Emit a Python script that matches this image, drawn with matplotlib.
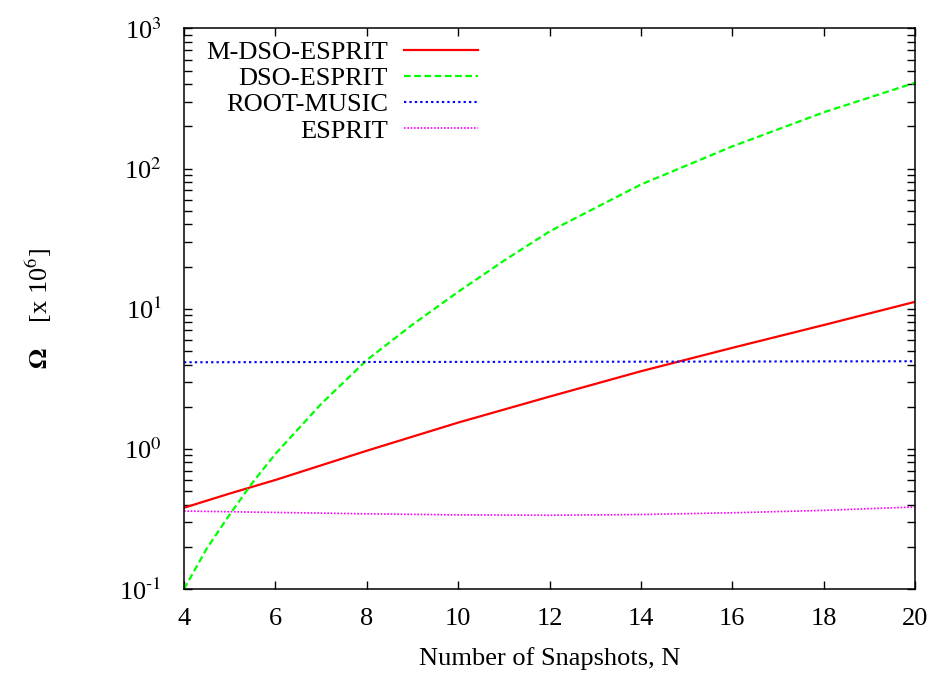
import matplotlib
matplotlib.use("Agg")
import matplotlib.pyplot as plt
from matplotlib.ticker import LogLocator, FuncFormatter, MultipleLocator, NullFormatter
import numpy as np

plt.rcParams["font.family"] = ["Liberation Serif", "DejaVu Serif"]
plt.rcParams["mathtext.fontset"] = "stix"
plt.rcParams["font.size"] = 19

# Complexity vs number of snapshots (x 10^6 flops)
n_mdso = [4, 5, 6, 8, 10, 12, 14, 16, 18, 20]
omega_mdso = [0.38, 0.48, 0.60, 0.97, 1.54, 2.36, 3.58, 5.26, 7.65, 11.2]

n_dso = [4, 4.5, 5, 5.5, 6, 7, 8, 9, 10, 11, 12, 14, 16, 18, 20]
omega_dso = [0.1, 0.195, 0.34, 0.575, 0.92, 2.09, 4.3, 7.7, 13.2, 22.0, 35.6, 77, 144, 252, 410]

n_root = [4, 8, 12, 16, 20]
omega_root = [4.15, 4.17, 4.18, 4.20, 4.22]

n_esprit = [4, 6, 8, 10, 12, 14, 16, 18, 20]
omega_esprit = [0.36, 0.352, 0.344, 0.338, 0.336, 0.340, 0.350, 0.364, 0.385]


def pow_label(v, pos):
    # gnuplot-style "10^n" with a plain hyphen for negative exponents
    e = int(round(np.log10(v)))
    return r"10$^{\text{%d}}$" % e


fig = plt.figure(figsize=(9.36, 6.73), dpi=100)
ax = fig.add_axes([0.1966, 0.1248, 0.781, 0.8329])

ax.plot(n_mdso, omega_mdso, color="#ff0000", lw=1.6, label="M-DSO-ESPRIT")
ax.plot(n_dso, omega_dso, color="#00ff00", lw=1.6, linestyle=(0, (3, 1.6)), label="DSO-ESPRIT")
ax.plot(n_root, omega_root, color="#0000ff", lw=1.5, linestyle=(0, (1.1, 1.5)), label="ROOT-MUSIC")
ax.plot(n_esprit, omega_esprit, color="#ff00ff", lw=1.2, linestyle=(0, (1, 1)), label="ESPRIT")

ax.set_yscale("log")
ax.set_xlim(4, 20)
ax.set_ylim(0.1, 1000)
ax.xaxis.set_major_locator(MultipleLocator(2))
ax.yaxis.set_major_locator(LogLocator(base=10))
ax.yaxis.set_major_formatter(FuncFormatter(pow_label))
ax.yaxis.set_minor_locator(LogLocator(base=10, subs=range(2, 10)))
ax.yaxis.set_minor_formatter(NullFormatter())

ax.tick_params(which="both", direction="in", top=True, right=True, length=6, width=1)
ax.tick_params(axis="x", which="major", pad=14)
ax.tick_params(axis="y", which="major", pad=16)
for sp in ax.spines.values():
    sp.set_linewidth(1.1)

ax.set_xlabel("Number of Snapshots, N", labelpad=12)
ax.set_ylabel(r"$\mathbf{\Omega}$    [x 10$^{6}$]", labelpad=47)

ax.legend(loc="upper left", bbox_to_anchor=(0.03, 0.978), frameon=False,
          markerfirst=False, handlelength=2.8, handletextpad=0.6,
          labelspacing=0.1, borderpad=0, borderaxespad=0)

fig.savefig("out.png", dpi=100)
